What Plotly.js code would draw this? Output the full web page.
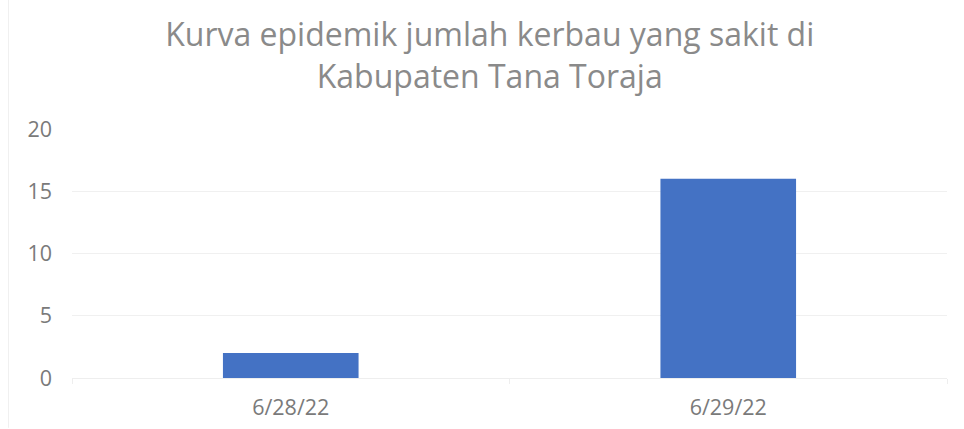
<!DOCTYPE html>
<html>
<head>
<meta charset="utf-8">
<script src="https://cdn.plot.ly/plotly-3.0.1.min.js"></script>
<style>html,body{margin:0;padding:0;background:#fff;}#chart{width:964px;height:429px;}</style>
</head>
<body>
<div id="chart"></div>
<script>
const categories = ["6/28/22", "6/29/22"];
const values = [2, 16];
const yTicks = [0, 5, 10, 15, 20];
const titleText = "Kurva epidemik jumlah kerbau yang sakit di<br>Kabupaten Tana Toraja";

const fontFam = "'Open Sans', sans-serif";
const trace = {
  type: "bar",
  x: categories,
  y: values,
  marker: {color: "#4472C4"},
  hoverinfo: "x+y"
};
const layout = {
  width: 964, height: 429,
  margin: {l: 71.5, r: 17, t: 128.5, b: 50.5},
  paper_bgcolor: "#ffffff",
  plot_bgcolor: "#ffffff",
  bargap: 0.69,
  showlegend: false,
  title: {
    text: titleText,
    font: {family: fontFam, size: 32, color: "#8a8a8a"},
    x: 0.508, xanchor: "center",
    y: 0.892, yanchor: "middle"
  },
  xaxis: {
    type: "category",
    tickson: "boundaries",
    ticks: "outside", ticklen: 5, tickcolor: "#eeeeee",
    showline: true, linecolor: "#eeeeee", linewidth: 1,
    showgrid: false,
    ticklabelstandoff: 10,
    tickfont: {family: fontFam, size: 21.5, color: "#7a7a7a"}
  },
  yaxis: {
    range: [0, 20],
    tickvals: yTicks,
    ticktext: yTicks.map(String),
    showgrid: true, gridcolor: "#f0f0f0", gridwidth: 1,
    zeroline: false, showline: false,
    ticks: "", ticklabelstandoff: 19,
    tickfont: {family: fontFam, size: 21.5, color: "#7a7a7a"}
  },
  shapes: [{
    type: "line", xref: "paper", yref: "paper",
    x0: -0.0726, x1: -0.0726, y0: -0.2, y1: 1.6,
    line: {color: "#f0f0f0", width: 1}
  }]
};
Plotly.newPlot("chart", [trace], layout, {displayModeBar: false, staticPlot: true});
</script>
</body>
</html>
